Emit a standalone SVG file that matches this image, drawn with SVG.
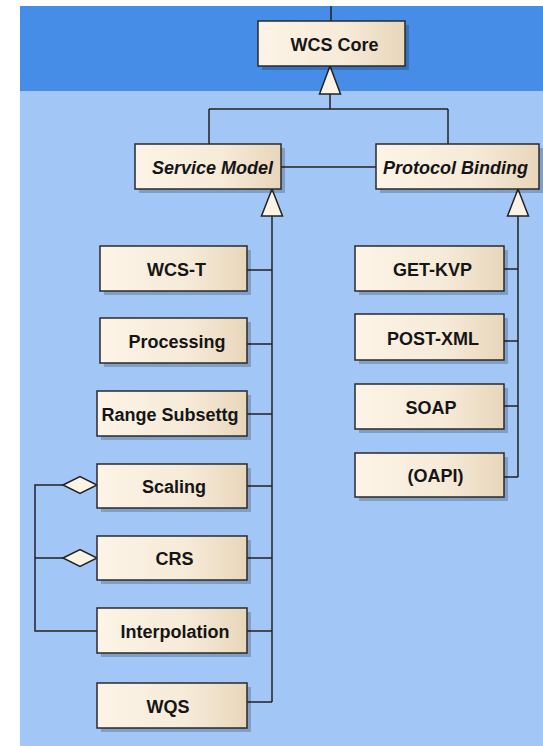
<svg xmlns="http://www.w3.org/2000/svg" width="543" height="746" viewBox="0 0 543 746">
<defs>
<linearGradient id="g" x1="0" y1="0" x2="1" y2="0">
<stop offset="0" stop-color="#FDF4E7"/>
<stop offset="0.6" stop-color="#F6EAD8"/>
<stop offset="1" stop-color="#E8D6BA"/>
</linearGradient>
<clipPath id="pbclip"><rect x="376" y="144" width="163" height="45"/></clipPath>
</defs>
<style>
.box{fill:url(#g);stroke:#2a2a2a;stroke-width:1.5}
.sh{fill:#000;fill-opacity:0.2}
.t{font-family:"Liberation Sans",Arial,sans-serif;font-size:18px;font-weight:bold;fill:#151515;text-anchor:middle}
.i{font-style:italic}
.c{fill:none;stroke:#222;stroke-width:1.5}
.tri{fill:#FBF3E6;stroke:#222;stroke-width:1.5;stroke-linejoin:miter}
</style>
<rect x="0" y="0" width="543" height="746" fill="#fff"/>
<rect x="20" y="6" width="523" height="85" fill="#468DE8"/>
<rect x="20" y="91" width="523" height="655" fill="#A2C6F5"/>

<g id="connectors">
<path class="c" d="M331 6V21"/>
<path class="c" d="M330 94V109M209 109H448M209 109V144M448 109V144"/>
<polygon class="tri" points="330,66 319.5,94 340.5,94"/>
<path class="c" d="M281 167H376"/>
<path class="c" d="M272 216V702M247 270H272M247 344H272M247 414H272M247 486H272M247 558H272M247 631H272M247 702H272"/>
<polygon class="tri" points="272,189 261.5,216 282.5,216"/>
<path class="c" d="M518 216V477M504 269H518M504 341H518M504 406H518M504 477H518"/>
<polygon class="tri" points="518,189 507.5,216 528.5,216"/>
<path class="c" d="M63 485H35V631H97M35 558H63"/>
<polygon class="tri" points="63,485 80,476.5 97,485 80,493.5"/>
<polygon class="tri" points="63,558 80,549.5 97,558 80,566.5"/>
</g>

<g id="wcs-core"><rect class="sh" x="262" y="25" width="147" height="45"/><rect class="box" x="258" y="21" width="147" height="45"/><text class="t" x="334.5" y="51">WCS Core</text></g>
<g id="service-model"><rect class="sh" x="139" y="148" width="146" height="45"/><rect class="box" x="135" y="144" width="146" height="45"/><text class="t i" x="212.5" y="174">Service Model</text></g>
<g id="protocol-binding"><rect class="sh" x="380" y="148" width="163" height="45"/><rect class="box" x="376" y="144" width="163" height="45"/><text class="t i" x="383" y="174" style="text-anchor:start" clip-path="url(#pbclip)">Protocol Binding</text></g>

<g id="wcs-t"><rect class="sh" x="104" y="250" width="147" height="45"/><rect class="box" x="100" y="246" width="147" height="45"/><text class="t" x="176.5" y="276">WCS-T</text></g>
<g id="processing"><rect class="sh" x="104" y="322" width="147" height="45"/><rect class="box" x="100" y="318" width="147" height="45"/><text class="t" x="177" y="348">Processing</text></g>
<g id="range-subsettg"><rect class="sh" x="101" y="395" width="150" height="45"/><rect class="box" x="97" y="391" width="150" height="45"/><text class="t" x="170" y="421">Range Subsettg</text></g>
<g id="scaling"><rect class="sh" x="101" y="468" width="150" height="44"/><rect class="box" x="97" y="464" width="150" height="44"/><text class="t" x="174" y="493">Scaling</text></g>
<g id="crs"><rect class="sh" x="101" y="540" width="150" height="44"/><rect class="box" x="97" y="536" width="150" height="44"/><text class="t" x="174.5" y="565">CRS</text></g>
<g id="interpolation"><rect class="sh" x="101" y="612" width="150" height="45"/><rect class="box" x="97" y="608" width="150" height="45"/><text class="t" x="175" y="638">Interpolation</text></g>
<g id="wqs"><rect class="sh" x="101" y="687" width="150" height="45"/><rect class="box" x="97" y="683" width="150" height="45"/><text class="t" x="168" y="713">WQS</text></g>

<g id="get-kvp"><rect class="sh" x="359" y="250" width="149" height="45"/><rect class="box" x="355" y="246" width="149" height="45"/><text class="t" x="432.5" y="276">GET-KVP</text></g>
<g id="post-xml"><rect class="sh" x="359" y="318" width="149" height="46"/><rect class="box" x="355" y="314" width="149" height="46"/><text class="t" x="433" y="344.5">POST-XML</text></g>
<g id="soap"><rect class="sh" x="359" y="388" width="149" height="45"/><rect class="box" x="355" y="384" width="149" height="45"/><text class="t" x="431" y="414">SOAP</text></g>
<g id="oapi"><rect class="sh" x="359" y="457" width="149" height="44"/><rect class="box" x="355" y="453" width="149" height="44"/><text class="t" x="435.5" y="482">(OAPI)</text></g>
</svg>
